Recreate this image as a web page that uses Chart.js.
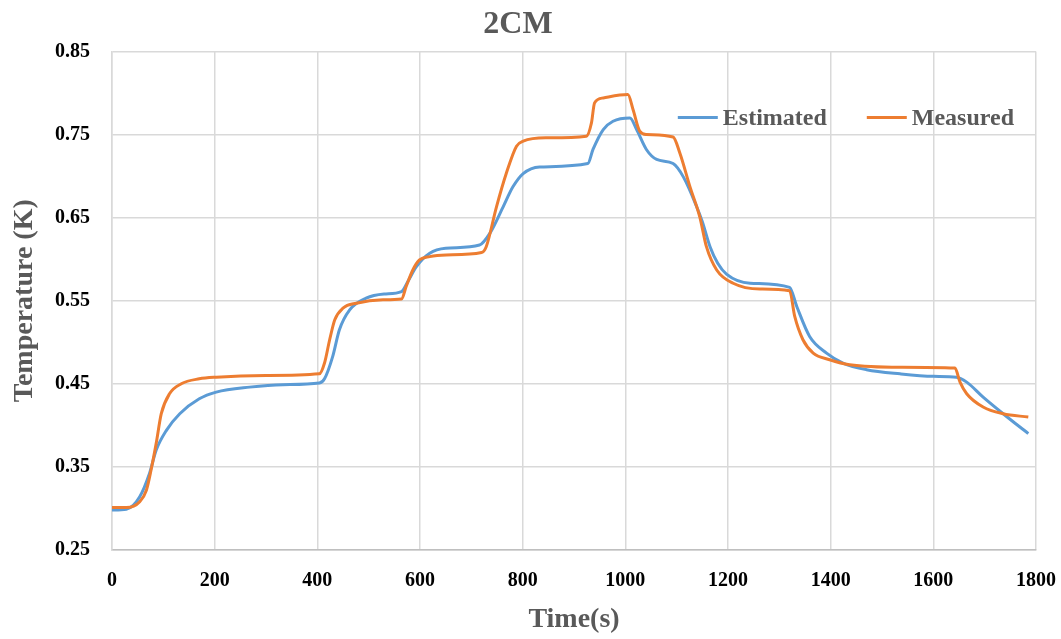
<!DOCTYPE html>
<html>
<head>
<meta charset="utf-8">
<script src="https://cdn.jsdelivr.net/npm/chart.js@4/dist/chart.umd.min.js"></script>
<style>
  html, body { margin: 0; padding: 0; background: #fff; }
  #wrap { width: 1061px; height: 639px; }
</style>
</head>
<body>
<div id="wrap"><canvas id="chart"></canvas></div>
<script>
// time (s) and temperature readings
const estTime = [0, 28, 54, 73, 86, 106, 132, 170, 203, 268, 333, 404, 414, 430, 443, 463, 495, 530, 564, 578, 593, 619, 650, 716, 736, 762, 781, 801, 833, 927, 937, 957, 976, 1009, 1022, 1041, 1061, 1093, 1113, 1139, 1150, 1165, 1180, 1197, 1243, 1320, 1334, 1359, 1392, 1424, 1470, 1535, 1600, 1645, 1665, 1697, 1736, 1785];
const estTemp = [0.298, 0.299, 0.314, 0.342, 0.370, 0.394, 0.414, 0.432, 0.440, 0.446, 0.449, 0.451, 0.456, 0.483, 0.515, 0.539, 0.553, 0.558, 0.561, 0.575, 0.591, 0.607, 0.613, 0.617, 0.631, 0.663, 0.687, 0.703, 0.711, 0.715, 0.732, 0.756, 0.766, 0.770, 0.756, 0.732, 0.720, 0.715, 0.699, 0.663, 0.645, 0.615, 0.595, 0.582, 0.571, 0.566, 0.543, 0.507, 0.487, 0.475, 0.467, 0.462, 0.459, 0.458, 0.452, 0.434, 0.414, 0.390];

const measTime = [0, 28, 54, 67, 76, 86, 96, 112, 135, 170, 203, 300, 404, 414, 424, 434, 450, 476, 528, 564, 573, 586, 599, 619, 651, 720, 729, 749, 768, 788, 801, 846, 924, 934, 940, 957, 1005, 1015, 1028, 1041, 1093, 1106, 1126, 1145, 1158, 1178, 1210, 1262, 1320, 1330, 1346, 1366, 1398, 1437, 1535, 1642, 1652, 1665, 1697, 1736, 1785];
const measTemp = [0.301, 0.301, 0.308, 0.322, 0.346, 0.378, 0.414, 0.438, 0.450, 0.456, 0.458, 0.460, 0.462, 0.475, 0.503, 0.527, 0.541, 0.547, 0.551, 0.552, 0.567, 0.587, 0.599, 0.603, 0.605, 0.608, 0.615, 0.663, 0.703, 0.736, 0.742, 0.746, 0.748, 0.764, 0.788, 0.794, 0.798, 0.780, 0.754, 0.750, 0.747, 0.728, 0.687, 0.651, 0.615, 0.587, 0.571, 0.564, 0.562, 0.531, 0.503, 0.487, 0.479, 0.473, 0.470, 0.469, 0.452, 0.438, 0.422, 0.414, 0.410];

const xTicks = [0, 200, 400, 600, 800, 1000, 1200, 1400, 1600, 1800];
const yTicks = [0.25, 0.35, 0.45, 0.55, 0.65, 0.75, 0.85];

const serif = '"Liberation Serif", "Times New Roman", serif';
const gridColor = '#d9d9d9';

const toPoints = (xs, ys) => xs.map((x, i) => ({ x: x, y: ys[i] }));

// legend sits inside the plot, top right, like the Excel original
const insideLegend = {
  id: 'insideLegend',
  afterDatasetsDraw(chart) {
    const c = chart.ctx;
    const area = chart.chartArea;
    const lineLen = 40, gap = 5, itemGap = 40;
    c.save();
    c.font = 'bold 24px ' + serif;
    c.textBaseline = 'middle';
    const items = chart.data.datasets.map(ds => ({
      text: ds.label,
      color: ds.borderColor,
      w: lineLen + gap + c.measureText(ds.label).width
    }));
    const total = items.reduce((s, it) => s + it.w, 0) + itemGap * (items.length - 1);
    let x = area.right - 22 - total;
    const y = area.top + 66;
    items.forEach(it => {
      c.strokeStyle = it.color;
      c.lineWidth = 3;
      c.beginPath();
      c.moveTo(x, y);
      c.lineTo(x + lineLen, y);
      c.stroke();
      c.fillStyle = '#595959';
      c.fillText(it.text, x + lineLen + gap, y + 1);
      x += it.w + itemGap;
    });
    c.restore();
  }
};

const ctx = document.getElementById('chart').getContext('2d');
new Chart(ctx, {
  type: 'line',
  data: {
    datasets: [
      {
        label: 'Estimated',
        data: toPoints(estTime, estTemp),
        borderColor: '#5B9BD5',
        backgroundColor: '#5B9BD5',
        borderWidth: 3,
        pointRadius: 0,
        cubicInterpolationMode: 'monotone',
        order: 1
      },
      {
        label: 'Measured',
        data: toPoints(measTime, measTemp),
        borderColor: '#ED7D31',
        backgroundColor: '#ED7D31',
        borderWidth: 3,
        pointRadius: 0,
        cubicInterpolationMode: 'monotone',
        order: 0
      }
    ]
  },
  options: {
    responsive: true,
    maintainAspectRatio: false,
    animation: false,
    layout: { padding: { left: 0, right: 25, top: 0, bottom: 0 } },
    plugins: {
      title: {
        display: true,
        text: '2CM',
        color: '#595959',
        font: { family: serif, size: 32, weight: 'bold' },
        padding: { top: 6, bottom: 7 }
      },
      legend: { display: false },
      tooltip: { enabled: false }
    },
    scales: {
      x: {
        type: 'linear',
        min: 0,
        max: 1800,
        afterBuildTicks: (s) => { s.ticks = xTicks.map(v => ({ value: v })); },
        afterFit: (s) => { s.height = 89; s.paddingLeft = 0; s.paddingRight = 0; },
        grid: { color: gridColor, lineWidth: 1.5, drawTicks: false },
        border: { color: '#bfbfbf', width: 1.5 },
        ticks: {
          color: '#000',
          padding: 19,
          maxRotation: 0,
          font: { family: serif, size: 20, weight: 'bold' },
          callback: (v) => String(v)
        },
        title: {
          display: true,
          text: 'Time(s)',
          color: '#595959',
          font: { family: serif, size: 28, weight: 'bold' },
          padding: { top: 0, bottom: 2 }
        }
      },
      y: {
        type: 'linear',
        min: 0.25,
        max: 0.85,
        afterBuildTicks: (s) => { s.ticks = yTicks.map(v => ({ value: v })); },
        afterFit: (s) => { s.width = 112; s.paddingTop = 0; s.paddingBottom = 0; },
        grid: { color: gridColor, lineWidth: 1.5, drawTicks: false },
        border: { color: gridColor, width: 1.5 },
        ticks: {
          color: '#000',
          padding: 22,
          font: { family: serif, size: 20, weight: 'bold' },
          callback: (v) => v.toFixed(2)
        },
        title: {
          display: true,
          text: 'Temperature (K)',
          color: '#595959',
          font: { family: serif, size: 28, weight: 'bold' },
          padding: { top: 8, bottom: 0 }
        }
      }
    }
  },
  plugins: [insideLegend]
});
</script>
</body>
</html>
